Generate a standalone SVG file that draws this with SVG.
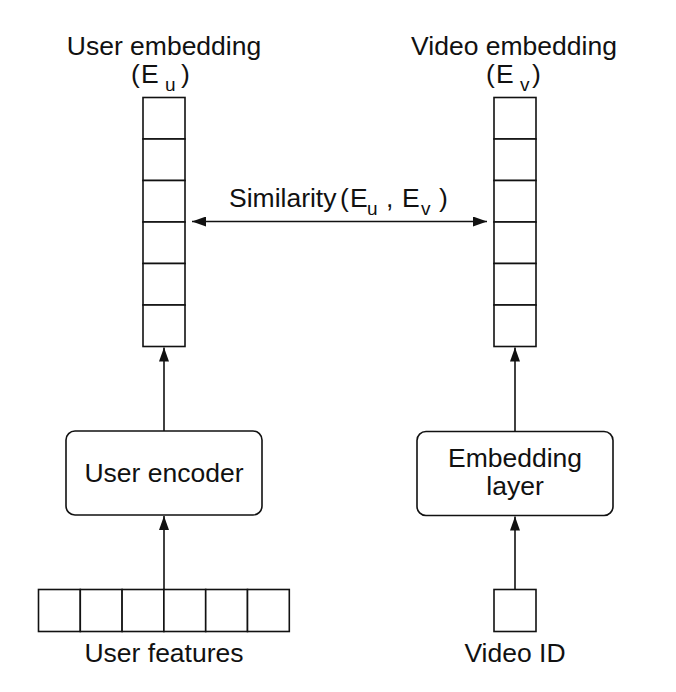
<svg xmlns="http://www.w3.org/2000/svg" width="676" height="692" viewBox="0 0 676 692">
<style>
text{font-family:"Liberation Sans",Arial,sans-serif;font-size:26.5px;fill:#111}
.sub{font-size:19px}
.cell{fill:#fff;stroke:#111;stroke-width:1.6}
.box{fill:#fff;stroke:#111;stroke-width:1.6}
.conn{stroke:#111;stroke-width:1.6;fill:none}
</style>
<defs>
<marker id="ah" viewBox="0 0 14 10" refX="14" refY="5" markerWidth="14" markerHeight="10" markerUnits="userSpaceOnUse" orient="auto-start-reverse">
<path d="M0,0 L14,5 L0,10 Z" fill="#111"/>
</marker>
</defs>
<rect width="676" height="692" fill="#fff"/>
<g id="user-embedding">
<text x="164" y="55" text-anchor="middle">User embedding</text>
<text y="83"><tspan x="131">(</tspan><tspan x="141">E</tspan><tspan class="sub" x="165" y="91">u</tspan><tspan x="181" y="83">)</tspan></text>
<rect class="cell" x="143" y="97.5" width="42" height="41.5"/>
<rect class="cell" x="143" y="139" width="42" height="41.5"/>
<rect class="cell" x="143" y="180.5" width="42" height="41.5"/>
<rect class="cell" x="143" y="222" width="42" height="41.5"/>
<rect class="cell" x="143" y="263.5" width="42" height="41.5"/>
<rect class="cell" x="143" y="305" width="42" height="41.5"/>
</g>
<g id="video-embedding">
<text x="514" y="55" text-anchor="middle">Video embedding</text>
<text y="83"><tspan x="486">(</tspan><tspan x="496">E</tspan><tspan class="sub" x="520" y="91">v</tspan><tspan x="532" y="83">)</tspan></text>
<rect class="cell" x="494" y="97.5" width="42" height="41.5"/>
<rect class="cell" x="494" y="139" width="42" height="41.5"/>
<rect class="cell" x="494" y="180.5" width="42" height="41.5"/>
<rect class="cell" x="494" y="222" width="42" height="41.5"/>
<rect class="cell" x="494" y="263.5" width="42" height="41.5"/>
<rect class="cell" x="494" y="305" width="42" height="41.5"/>
</g>
<g id="user-encoder">
<rect class="box" x="66" y="431" width="196" height="84" rx="9"/>
<text x="164" y="482" text-anchor="middle">User encoder</text>
</g>
<g id="embedding-layer">
<rect class="box" x="417" y="431.5" width="196" height="84" rx="9"/>
<text x="515" y="467" text-anchor="middle">Embedding</text>
<text x="515" y="495" text-anchor="middle">layer</text>
</g>
<g id="user-features">
<rect class="cell" x="38.5" y="589.5" width="41.8" height="42"/>
<rect class="cell" x="80.3" y="589.5" width="41.8" height="42"/>
<rect class="cell" x="122.1" y="589.5" width="41.8" height="42"/>
<rect class="cell" x="163.9" y="589.5" width="41.8" height="42"/>
<rect class="cell" x="205.7" y="589.5" width="41.8" height="42"/>
<rect class="cell" x="247.5" y="589.5" width="41.8" height="42"/>
<text x="164" y="662" text-anchor="middle">User features</text>
</g>
<g id="video-id">
<rect class="cell" x="494" y="589.5" width="42" height="42"/>
<text x="515" y="662" text-anchor="middle">Video ID</text>
</g>
<g id="connectors">
<line class="conn" x1="164" y1="431" x2="164" y2="347.5" marker-end="url(#ah)"/>
<line class="conn" x1="164" y1="589.5" x2="164" y2="516" marker-end="url(#ah)"/>
<line class="conn" x1="515" y1="431.5" x2="515" y2="347.5" marker-end="url(#ah)"/>
<line class="conn" x1="515" y1="589.5" x2="515" y2="516.5" marker-end="url(#ah)"/>
<line class="conn" x1="192" y1="221.5" x2="487" y2="221.5" marker-start="url(#ah)" marker-end="url(#ah)"/>
<text y="207"><tspan x="229">Similarity</tspan><tspan x="340">(</tspan><tspan x="350">E</tspan><tspan class="sub" x="367" y="215">u</tspan><tspan x="386" y="207">,</tspan><tspan x="402">E</tspan><tspan class="sub" x="421" y="215">v</tspan><tspan x="439" y="207">)</tspan></text>
</g>
</svg>
